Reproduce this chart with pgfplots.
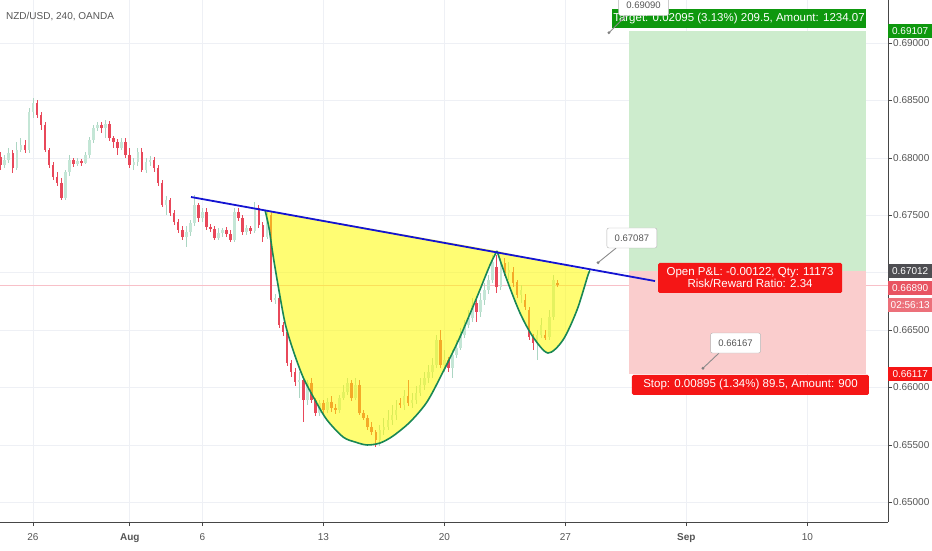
\documentclass[border=0pt]{standalone}
\usepackage{pgfplots}
\usepackage{pgfplotstable}
\pgfplotsset{compat=1.18}
\usepackage{fontspec}
\setmainfont{Liberation Sans}

\definecolor{upc}{RGB}{196,230,214}
\definecolor{upw}{RGB}{172,214,195}
\definecolor{dnc}{RGB}{232,72,90}
\definecolor{gridc}{RGB}{238,240,245}
\definecolor{axc}{RGB}{70,70,70}
\definecolor{txt}{RGB}{85,85,85}
\definecolor{tgreen}{RGB}{14,152,14}
\definecolor{zg}{RGB}{205,236,205}
\definecolor{zr}{RGB}{250,205,205}
\definecolor{cupline}{RGB}{25,135,85}
\definecolor{cupfill}{RGB}{255,252,0}
\definecolor{trend}{RGB}{20,20,210}
\definecolor{pinkl}{RGB}{248,192,200}
\definecolor{boxred}{RGB}{245,22,22}
\definecolor{lastred}{RGB}{232,84,98}
\definecolor{cdred}{RGB}{236,112,122}
\definecolor{entryg}{RGB}{78,78,82}

% 4h candles: bar index (6 per trading day, 0 = 26 Jul), open high low close
\pgfplotstableread{
x o h l c
-8 0.68008 0.68051 0.67894 0.67938
-7 0.67938 0.68025 0.67912 0.67981
-6 0.67981 0.68086 0.67955 0.68042
-5 0.68042 0.68069 0.67868 0.67912
-4 0.67912 0.68138 0.67894 0.68069
-3 0.68069 0.68173 0.68051 0.68112
-2 0.68112 0.68156 0.68042 0.68069
-1 0.68069 0.68434 0.68042 0.68400
0 0.68400 0.68521 0.68347 0.68478
1 0.68478 0.68504 0.68347 0.68373
2 0.68373 0.68400 0.68243 0.68286
3 0.68286 0.68312 0.68051 0.68069
4 0.68069 0.68086 0.67912 0.67938
5 0.67938 0.67964 0.67807 0.67833
6 0.67833 0.67877 0.67755 0.67781
7 0.67781 0.67825 0.67633 0.67650
8 0.67650 0.67894 0.67633 0.67877
9 0.67877 0.68025 0.67842 0.67981
10 0.67981 0.67999 0.67920 0.67947
11 0.67947 0.67999 0.67929 0.67973
12 0.67973 0.67990 0.67929 0.67955
13 0.67955 0.68051 0.67947 0.68025
14 0.68025 0.68182 0.67999 0.68156
15 0.68156 0.68286 0.68130 0.68260
16 0.68260 0.68312 0.68234 0.68286
17 0.68286 0.68312 0.68217 0.68260
18 0.68260 0.68330 0.68173 0.68295
19 0.68295 0.68321 0.68147 0.68173
20 0.68173 0.68190 0.68086 0.68138
21 0.68138 0.68164 0.68025 0.68086
22 0.68086 0.68173 0.68069 0.68138
23 0.68138 0.68173 0.67999 0.68025
24 0.68025 0.68086 0.67912 0.67938
25 0.67938 0.67999 0.67894 0.67964
26 0.67964 0.68086 0.67929 0.68051
27 0.68051 0.68086 0.67877 0.67894
28 0.67894 0.67999 0.67868 0.67964
29 0.67964 0.68016 0.67929 0.67981
30 0.67981 0.68008 0.67877 0.67912
31 0.67912 0.67938 0.67755 0.67781
32 0.67781 0.67807 0.67572 0.67589
33 0.67589 0.67668 0.67502 0.67633
34 0.67633 0.67650 0.67494 0.67520
35 0.67520 0.67546 0.67415 0.67441
36 0.67441 0.67468 0.67346 0.67372
37 0.67372 0.67407 0.67285 0.67311
38 0.67311 0.67407 0.67224 0.67354
39 0.67354 0.67459 0.67319 0.67433
40 0.67433 0.67677 0.67407 0.67589
41 0.67589 0.67607 0.67441 0.67476
42 0.67476 0.67563 0.67441 0.67529
43 0.67529 0.67563 0.67372 0.67398
44 0.67398 0.67424 0.67354 0.67380
45 0.67380 0.67407 0.67285 0.67302
46 0.67302 0.67389 0.67285 0.67346
47 0.67346 0.67389 0.67311 0.67372
48 0.67372 0.67398 0.67311 0.67337
49 0.67337 0.67372 0.67267 0.67285
50 0.67285 0.67563 0.67267 0.67529
51 0.67529 0.67563 0.67450 0.67476
52 0.67476 0.67502 0.67328 0.67354
53 0.67354 0.67415 0.67328 0.67389
54 0.67389 0.67407 0.67337 0.67363
55 0.67363 0.67616 0.67346 0.67563
56 0.67563 0.67589 0.67389 0.67415
57 0.67415 0.67441 0.67267 0.67311
58 0.67311 0.67546 0.67293 0.67502
59 0.67502 0.67529 0.66745 0.66762
60 0.66762 0.66814 0.66727 0.66779
61 0.66779 0.66806 0.66518 0.66544
62 0.66544 0.66570 0.66448 0.66483
63 0.66483 0.66501 0.66187 0.66213
64 0.66213 0.66239 0.66091 0.66135
65 0.66135 0.66170 0.66013 0.66048
66 0.66048 0.66135 0.65908 0.66065
67 0.66065 0.66083 0.65699 0.65891
68 0.65891 0.66065 0.65847 0.66039
69 0.66039 0.66083 0.65865 0.65891
70 0.65891 0.65908 0.65752 0.65778
71 0.65778 0.65891 0.65752 0.65865
72 0.65865 0.65891 0.65769 0.65804
73 0.65804 0.65908 0.65778 0.65874
74 0.65874 0.65926 0.65787 0.65821
75 0.65821 0.65856 0.65769 0.65804
76 0.65804 0.65935 0.65778 0.65908
77 0.65908 0.66022 0.65891 0.65961
78 0.65961 0.66083 0.65935 0.66039
79 0.66039 0.66065 0.65882 0.65908
80 0.65908 0.66083 0.65891 0.66022
81 0.66022 0.66065 0.65760 0.65778
82 0.65778 0.65804 0.65717 0.65734
83 0.65734 0.65760 0.65630 0.65656
84 0.65656 0.65699 0.65586 0.65612
85 0.65612 0.65630 0.65482 0.65543
86 0.65543 0.65673 0.65490 0.65630
87 0.65630 0.65734 0.65586 0.65656
88 0.65656 0.65804 0.65630 0.65717
89 0.65717 0.65847 0.65673 0.65760
90 0.65760 0.65891 0.65717 0.65804
91 0.65865 0.65908 0.65821 0.65847
92 0.65847 0.65978 0.65804 0.65926
93 0.65926 0.66065 0.65839 0.65865
94 0.65865 0.65952 0.65821 0.65891
95 0.65891 0.66013 0.65856 0.65952
96 0.65952 0.66083 0.65926 0.66022
97 0.66022 0.66135 0.65978 0.66083
98 0.66083 0.66196 0.66039 0.66135
99 0.66135 0.66257 0.66083 0.66196
100 0.66196 0.66457 0.66170 0.66414
101 0.66414 0.66501 0.66170 0.66196
102 0.66196 0.66327 0.66135 0.66239
103 0.66239 0.66266 0.66135 0.66170
104 0.66170 0.66327 0.66083 0.66283
105 0.66283 0.66414 0.66257 0.66344
106 0.66344 0.66518 0.66327 0.66457
107 0.66457 0.66588 0.66431 0.66544
108 0.66544 0.66675 0.66518 0.66605
109 0.66605 0.66779 0.66570 0.66718
110 0.66736 0.66762 0.66570 0.66657
111 0.66657 0.66823 0.66614 0.66762
112 0.66762 0.66910 0.66718 0.66849
113 0.66849 0.66980 0.66814 0.66936
114 0.66936 0.67154 0.66910 0.67093
115 0.67049 0.67154 0.66823 0.66875
116 0.66875 0.67128 0.66849 0.67067
117 0.67084 0.67128 0.66971 0.66997
118 0.66997 0.67093 0.66936 0.67023
119 0.67006 0.67049 0.66875 0.66910
120 0.66919 0.66936 0.66779 0.66806
121 0.66806 0.66893 0.66736 0.66849
122 0.66762 0.66814 0.66675 0.66701
123 0.66675 0.66701 0.66414 0.66440
124 0.66440 0.66466 0.66327 0.66387
125 0.66387 0.66501 0.66239 0.66457
126 0.66457 0.66605 0.66431 0.66544
127 0.66457 0.66501 0.66414 0.66431
128 0.66440 0.66675 0.66414 0.66614
129 0.66614 0.66980 0.66588 0.66936
130 0.66910 0.66936 0.66875 0.66890
}\candles

\tikzset{
  rbox/.style={fill=#1, text=white, font=\fontsize{10}{12}\selectfont,
    minimum width=44pt, minimum height=14pt, inner sep=0pt, anchor=west},
  callout/.style={fill=white, draw=black!30, rounded corners=2pt, text=txt,
    font=\fontsize{9.5}{11}\selectfont, minimum width=50pt, minimum height=20pt, inner sep=0pt},
  pointer/.style={draw=black!45, line width=0.9pt},
}
\pgfplotsset{
  candle/.style 2 args={draw=none, mark=none, forget plot,
    error bars/.cd, y dir=both, y explicit, error mark=none,
    error bar style={line width=#2, #1}},
}

\begin{document}
\begin{tikzpicture}
\path[use as bounding box] (0,-28pt) rectangle (932pt,522pt);
\begin{axis}[
  at={(0,0)}, anchor=south west,
  scale only axis, width=888pt, height=522pt,
  xmin=-8.18, xmax=212, ymin=0.64828, ymax=0.69375,
  axis x line*=bottom, axis y line*=right,
  axis line style={axc, line width=0.8pt},
  xtick={0,24,42,72,102,132,162,192},
  xticklabels={26,\textbf{Aug},6,13,20,27,\textbf{Sep},10},
  ytick={0.65,0.655,0.66,0.665,0.67,0.675,0.68,0.685,0.69},
  scaled y ticks=false,
  yticklabel={\pgfmathprintnumber[fixed,fixed zerofill,precision=5,assume math mode=true]{\tick}},
  tick align=outside, major tick length=4pt,
  tick style={axc, line width=0.6pt},
  grid=major, major grid style={gridc, line width=0.7pt},
  ticklabel style={font=\fontsize{10}{12}\selectfont, text=txt},
  yticklabel style={anchor=west, inner sep=1pt},
  xticklabel style={yshift=-4pt},
  clip mode=individual,
]
% current price line
\addplot[pinkl, line width=0.8pt] coordinates {(-9,0.66890) (213,0.66890)};

% candle wicks and bodies
\addplot[restrict expr to domain={\thisrow{c}-\thisrow{o}}{0:1}, candle={upw}{0.8pt}]
  table[x=x, y expr={(\thisrow{h}+\thisrow{l})/2}, y error expr={(\thisrow{h}-\thisrow{l})/2}] {\candles};
\addplot[restrict expr to domain={\thisrow{c}-\thisrow{o}}{0:1}, candle={upc}{2.6pt}]
  table[x=x, y expr={(\thisrow{o}+\thisrow{c})/2}, y error expr={abs(\thisrow{c}-\thisrow{o})/2}] {\candles};
\addplot[restrict expr to domain={\thisrow{c}-\thisrow{o}}{-1:-0.000001}, candle={dnc}{0.8pt}]
  table[x=x, y expr={(\thisrow{h}+\thisrow{l})/2}, y error expr={(\thisrow{h}-\thisrow{l})/2}] {\candles};
\addplot[restrict expr to domain={\thisrow{c}-\thisrow{o}}{-1:-0.000001}, candle={dnc}{2.6pt}]
  table[x=x, y expr={(\thisrow{o}+\thisrow{c})/2}, y error expr={abs(\thisrow{c}-\thisrow{o})/2}] {\candles};

% cup and handle fills
\addplot[draw=none, fill=cupfill, fill opacity=0.55, smooth] coordinates {
  (57.53,0.67546) (58.52,0.67389) (59.51,0.67154) (60.75,0.66893) (62.49,0.66562)
  (64.47,0.66327) (66.95,0.66091) (69.92,0.65891) (72.90,0.65717) (76.87,0.65569)
  (79.84,0.65525) (82.82,0.65499) (86.04,0.65516) (89.26,0.65577) (93.48,0.65699)
  (97.69,0.65874) (101.66,0.66135) (105.88,0.66440) (110.09,0.66788) (113.32,0.67067)
  (115.05,0.67189)} -- cycle;
\addplot[draw=none, fill=cupfill, fill opacity=0.55, smooth] coordinates {
  (115.05,0.67189) (117.53,0.66936) (120.75,0.66649) (123.98,0.66440) (127.70,0.66300)
  (131.42,0.66414) (134.89,0.66675) (137.62,0.66980) (138.11,0.67014)} -- cycle;

% target and stop zones
\addplot[draw=none, fill=zg] coordinates {(147.78,0.67012) (206.55,0.67012) (206.55,0.69107) (147.78,0.69107)} -- cycle;
\addplot[draw=none, fill=zr] coordinates {(147.78,0.66117) (206.55,0.66117) (206.55,0.67012) (147.78,0.67012)} -- cycle;

% cup and handle outlines
\addplot[cupline, line width=1.6pt, smooth] coordinates {
  (57.53,0.67546) (58.52,0.67389) (59.51,0.67154) (60.75,0.66893) (62.49,0.66562)
  (64.47,0.66327) (66.95,0.66091) (69.92,0.65891) (72.90,0.65717) (76.87,0.65569)
  (79.84,0.65525) (82.82,0.65499) (86.04,0.65516) (89.26,0.65577) (93.48,0.65699)
  (97.69,0.65874) (101.66,0.66135) (105.88,0.66440) (110.09,0.66788) (113.32,0.67067)
  (115.05,0.67189)};
\addplot[cupline, line width=1.6pt, smooth] coordinates {
  (115.05,0.67189) (117.53,0.66936) (120.75,0.66649) (123.98,0.66440) (127.70,0.66300)
  (131.42,0.66414) (134.89,0.66675) (137.62,0.66980) (138.11,0.67014)};

% neckline
\addplot[trend, line width=1.8pt] coordinates {(39.18,0.67659) (154.23,0.66927)};

% labels
\node[anchor=west, inner sep=0pt, font=\fontsize{10}{12}\selectfont, text=txt] at (axis cs:-6.7,0.69227) {NZD/USD, 240, OANDA};

\node[fill=tgreen, text=white, font=\fontsize{11.5}{13}\selectfont, minimum width=254pt, minimum height=19pt, inner sep=0pt]
  at (axis cs:175.05,0.69210) {Target: 0.02095 (3.13\%) 209.5, Amount: 1234.07};
\draw[pointer] (axis cs:147.5,0.69253) -- (axis cs:142.8,0.69090);
\fill[black!50] (axis cs:142.8,0.69090) circle (1.6pt);
\node[callout] at (axis cs:151.4,0.69327) {0.69090};

\draw[pointer] (axis cs:144.6,0.67215) -- (axis cs:140.1,0.67087);
\fill[black!50] (axis cs:140.1,0.67087) circle (1.6pt);
\node[callout] at (axis cs:148.5,0.67302) {0.67087};

\draw[pointer] (axis cs:170.1,0.66300) -- (axis cs:166.1,0.66167);
\fill[black!50] (axis cs:166.1,0.66167) circle (1.6pt);
\node[callout] at (axis cs:174.2,0.66387) {0.66167};

\node[fill=boxred, text=white, font=\fontsize{11.5}{11.8}\selectfont, align=center, minimum width=184pt, minimum height=30pt, inner sep=0pt, rounded corners=1.5pt]
  at (axis cs:177.8,0.66954) {Open P\&L: -0.00122, Qty: 11173\\Risk/Reward Ratio: 2.34};
\node[fill=boxred, text=white, font=\fontsize{11.5}{13}\selectfont, minimum width=237pt, minimum height=20pt, inner sep=0pt, rounded corners=1.5pt]
  at (axis cs:177.9,0.66022) {Stop: 0.00895 (1.34\%) 89.5, Amount: 900};

% price scale badges
\node[rbox=tgreen] at (axis cs:212,0.69107) {0.69107};
\node[rbox=entryg] at (axis cs:212,0.67012) {0.67012};
\node[rbox=lastred] at (axis cs:212,0.66867) {0.66890};
\node[rbox=cdred] at (axis cs:212,0.66714) {02:56:13};
\node[rbox=boxred] at (axis cs:212,0.66117) {0.66117};
\end{axis}
\end{tikzpicture}
\end{document}
